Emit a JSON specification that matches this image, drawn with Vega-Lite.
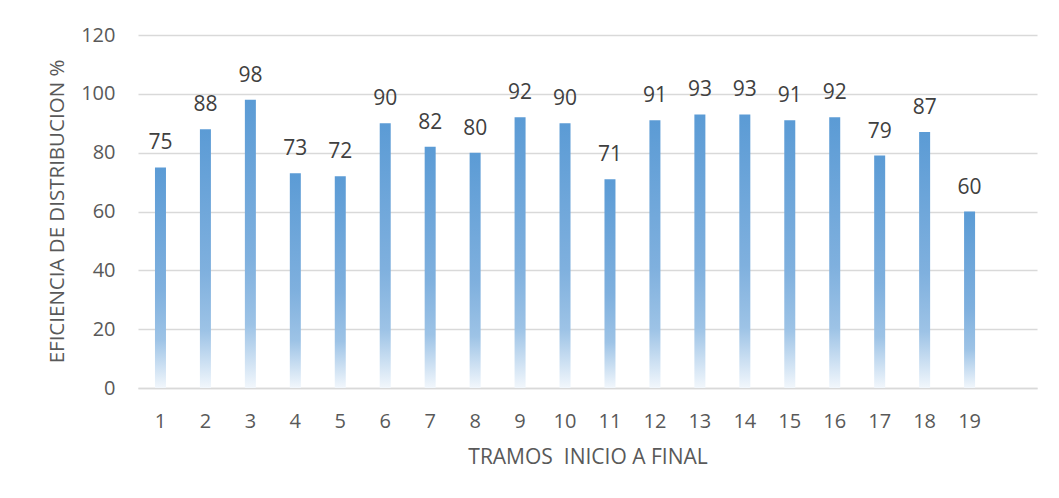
{
  "$schema": "https://vega.github.io/schema/vega-lite/v6.json",
  "width": 899,
  "height": 353,
  "autosize": {"type": "none"},
  "padding": {"left": 138, "top": 35, "right": 22, "bottom": 110},
  "background": "white",
  "config": {
    "view": {"stroke": null},
    "font": "Open Sans",
    "axis": {
      "labelFont": "Open Sans",
      "titleFont": "Open Sans",
      "labelColor": "#595959",
      "titleColor": "#595959",
      "labelFontSize": 20,
      "titleFontSize": 20.5,
      "titleFontWeight": "normal",
      "ticks": false,
      "tickSize": 0
    }
  },
  "data": {
    "values": [
      {"tramo": "1", "eficiencia": 75},
      {"tramo": "2", "eficiencia": 88},
      {"tramo": "3", "eficiencia": 98},
      {"tramo": "4", "eficiencia": 73},
      {"tramo": "5", "eficiencia": 72},
      {"tramo": "6", "eficiencia": 90},
      {"tramo": "7", "eficiencia": 82},
      {"tramo": "8", "eficiencia": 80},
      {"tramo": "9", "eficiencia": 92},
      {"tramo": "10", "eficiencia": 90},
      {"tramo": "11", "eficiencia": 71},
      {"tramo": "12", "eficiencia": 91},
      {"tramo": "13", "eficiencia": 93},
      {"tramo": "14", "eficiencia": 93},
      {"tramo": "15", "eficiencia": 91},
      {"tramo": "16", "eficiencia": 92},
      {"tramo": "17", "eficiencia": 79},
      {"tramo": "18", "eficiencia": 87},
      {"tramo": "19", "eficiencia": 60}
    ]
  },
  "encoding": {
    "x": {
      "field": "tramo",
      "type": "ordinal",
      "sort": null,
      "scale": {"paddingInner": 0, "paddingOuter": 0.5, "align": 0},
      "axis": {
        "title": "TRAMOS \u00a0INICIO A FINAL",
        "titleFontSize": 21,
        "labelAngle": 0,
        "labelPadding": 23,
        "domainColor": "#d9d9d9",
        "domainWidth": 1.5,
        "grid": false,
        "titleBaseline": "middle",
        "titleY": 69
      }
    },
    "y": {
      "field": "eficiencia",
      "type": "quantitative",
      "scale": {"domain": [0, 120], "nice": false},
      "axis": {
        "title": "EFICIENCIA DE DISTRIBUCION %",
        "values": [0, 20, 40, 60, 80, 100, 120],
        "domain": false,
        "gridColor": "#d9d9d9",
        "gridWidth": 1.5,
        "labelPadding": 23,
        "titleBaseline": "middle",
        "titleX": -81,
        "titleY": 176
      }
    }
  },
  "layer": [
    {
      "mark": {
        "type": "bar",
        "width": 11,
        "color": {
          "gradient": "linear",
          "x1": 0, "y1": 0, "x2": 0, "y2": 1,
          "stops": [
            {"offset": 0, "color": "#5B9BD5"},
            {"offset": 0.55, "color": "#7FB0DE"},
            {"offset": 0.78, "color": "#9DC3E6"},
            {"offset": 1, "color": "#F2F7FC"}
          ]
        }
      }
    },
    {
      "mark": {
        "type": "text",
        "baseline": "middle",
        "dy": -24,
        "fontSize": 21,
        "font": "Open Sans",
        "color": "#404040"
      },
      "encoding": {"text": {"field": "eficiencia", "type": "quantitative"}}
    }
  ]
}
